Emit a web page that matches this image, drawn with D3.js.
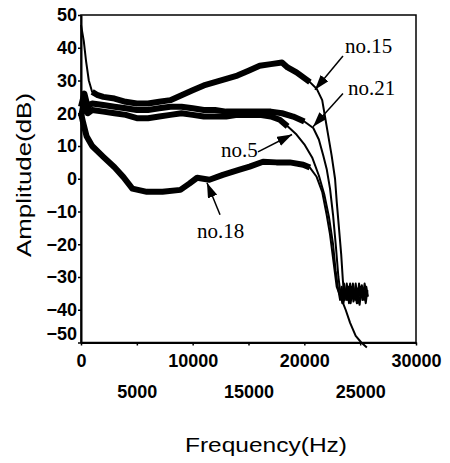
<!DOCTYPE html>
<html lang="en">
<head>
    <meta charset="UTF-8">
    <title>Amplitude vs Frequency</title>
    <script src="https://d3js.org/d3.v7.js"></script>
    <style>
        body { margin: 0; background: white; }
        .tick text { font-family: "Liberation Sans", Arial, sans-serif; font-weight: bold; font-size: 18px; fill: black; }
    </style>
</head>
<body>
<script>
    // tick values
    const freqTicks = [0, 5000, 10000, 15000, 20000, 25000, 30000];
    const ampTicks = [50, 40, 30, 20, 10, 0, -10, -20, -30, -40, -50];

    // series: [frequency Hz, amplitude dB]
    const no15 = [[0,47],[250,42],[450,36],[700,30],[1000,26.5],[1500,25.5],[2000,25],[3000,24.5],[4000,23.5],
        [5000,23],[6000,23],[7000,23.5],[8000,24],[9000,25.5],[10000,27],[11000,28.5],[12000,29.5],[13000,30.5],
        [14000,31.5],[15000,33],[16000,34.5],[17000,35],[18000,35.5],[18500,34],[19300,32.5],[20500,29.5],
        [21100,27.5],[21600,24],[21850,19],[22100,14],[22450,7],[22750,0],[22900,-7],[23100,-15],[23300,-23],
        [23450,-31],[23600,-37],[23800,-32],[24000,-38],[24200,-33],[24400,-37.5],[24600,-32],[24800,-38],
        [25000,-33],[25200,-37],[25400,-32],[25600,-36]];
    const no21 = [[0,22],[300,26],[600,22],[1000,23],[2000,22.5],[3000,22],[4000,21.5],[5000,21],[6000,21],
        [7000,21.5],[8000,22],[9000,22],[10000,21.5],[11000,21],[12000,21],[13000,20.5],[14000,20.5],
        [15000,20.5],[16000,20.5],[17000,20.5],[18000,20],[19000,19],[20000,17.5],[20800,15.5],[21300,12],
        [21700,7],[22000,3],[22300,-3],[22570,-11],[22835,-21],[23050,-30],[23200,-34],[23400,-38],[23550,-32],
        [23750,-37],[23950,-33],[24150,-38],[24350,-32],[24550,-37],[24750,-33.5],[24950,-38.5],[25150,-32.5],
        [25350,-37],[25550,-33],[25700,-36]];
    const no5 = [[0,19],[300,24],[600,20],[1000,21],[2000,20.5],[3000,20],[4000,19.5],[5000,18.5],[6000,18.5],
        [7000,19],[8000,19.5],[9000,20],[10000,19.5],[11000,19],[12000,19],[13000,19],[14000,19.5],[15000,19.5],
        [16000,19.5],[17000,19],[17800,18],[18500,16],[19300,13.5],[20000,10.5],[20700,6.5],[21300,1],
        [21800,-5],[22200,-11.6],[22570,-20],[22800,-28],[23000,-33],[23200,-37],[23350,-33],[23500,-38],
        [23700,-34],[23900,-37],[24100,-32],[24300,-36.5],[24500,-34],[24700,-38],[24900,-32],[25100,-36],
        [25300,-33.5],[25500,-38],[25650,-34]];
    const no18 = [[0,20],[200,17],[500,13],[1000,10],[2000,6.7],[3000,3.5],[3800,0.5],[4600,-3],[5900,-4],
        [7300,-4],[8900,-3.4],[9700,-1.5],[10400,0.3],[11500,-0.3],[12700,1.2],[14200,2.8],[15100,3.7],
        [16300,5.2],[17500,5],[18700,5],[19900,4.3],[20500,3.4],[21100,0.6],[21600,-4],[22000,-11],
        [22300,-17],[22600,-25],[22900,-33],[23300,-36.5],[23700,-40],[24100,-44],[24600,-48],[25100,-50],
        [25600,-51.5]];

    const seriesNames = ["no.15", "no.21", "no.5", "no.18"];
    const seriesData = [no15, no21, no5, no18];
    // frequency span where the trace is a thick noisy band
    const noisySpan = [[900, 21000], [0, 20200], [0, 18600], [0, 20600]];

    // labels: text anchor point and arrow tip, in data units
    const labelText = ["no.15", "no.21", "no.5", "no.18"];
    const labelPos = [[23640, 38.5], [23910, 25.5], [12540, 6.7], [10390, -18]];
    const arrowFrom = [[23460, 37.5], [23460, 26.0], [15850, 8.2], [12450, -11]];
    const arrowTo = [[20950, 27.2], [20780, 15.9], [18900, 13.5], [11280, -1.2]];

    const W = 450, H = 463;
    const mLeft = 81, mRight = 416, mTop = 15, mBottom = 342.5;

    const svg = d3.select("body").append("svg")
        .attr("width", W).attr("height", H);

    const x = d3.scaleLinear().domain([0, 30000]).range([mLeft, mRight]);
    const y = d3.scaleLinear().domain([-50, 50]).range([mBottom, mTop]);

    svg.append("defs").append("marker")
        .attr("id", "head")
        .attr("markerUnits", "userSpaceOnUse")
        .attr("markerWidth", 16).attr("markerHeight", 10)
        .attr("refX", 15).attr("refY", 5)
        .attr("orient", "auto")
        .append("path")
        .attr("d", "M0,0 L15,5 L0,10 Z")
        .attr("fill", "black");

    // frame
    svg.append("rect")
        .attr("x", mLeft).attr("y", mTop)
        .attr("width", mRight - mLeft).attr("height", mBottom - mTop)
        .attr("fill", "none").attr("stroke", "black").attr("stroke-width", 1.5);

    const line = d3.line()
        .x(d => x(d[0]))
        .y(d => y(d[1]));

    const g = svg.append("g");
    seriesData.forEach(function(data, i) {
        g.append("path")
            .attr("d", line(data))
            .attr("fill", "none")
            .attr("stroke", "black")
            .attr("stroke-width", 2)
            .attr("stroke-linejoin", "round");
        const span = noisySpan[i];
        g.append("path")
            .attr("d", line(data.filter(d => d[0] >= span[0] && d[0] <= span[1])))
            .attr("fill", "none")
            .attr("stroke", "black")
            .attr("stroke-width", 6)
            .attr("stroke-linejoin", "round")
            .attr("stroke-linecap", "butt");
    });

    // axes
    const yAxis = svg.append("g")
        .attr("transform", `translate(${mLeft},0)`)
        .call(d3.axisLeft(y).tickValues(ampTicks).tickFormat(d3.format("d"))
            .tickSize(3).tickSizeOuter(0).tickPadding(1));
    yAxis.select(".domain").attr("stroke-width", 2);
    yAxis.selectAll(".tick line").attr("stroke-width", 1.5);
    yAxis.selectAll(".tick text").filter(d => d === -50).attr("y", -9);

    const xAxis = svg.append("g")
        .attr("transform", `translate(0,${mBottom})`)
        .call(d3.axisBottom(x).tickValues(freqTicks).tickFormat(d3.format("d"))
            .tickSize(3).tickSizeOuter(0));
    xAxis.select(".domain").attr("stroke-width", 2);
    xAxis.selectAll(".tick line").attr("stroke-width", 1.5);
    xAxis.selectAll(".tick text")
        .attr("dy", 0)
        .attr("y", d => (d / 5000) % 2 ? 55 : 24);

    svg.append("text")
        .attr("x", 266).attr("y", 452)
        .attr("text-anchor", "middle")
        .attr("textLength", 162).attr("lengthAdjust", "spacingAndGlyphs")
        .style("font-family", "Liberation Sans, Arial, sans-serif")
        .style("font-size", "20px")
        .text("Frequency(Hz)");

    svg.append("text")
        .attr("transform", "translate(31,175) rotate(-90)")
        .attr("text-anchor", "middle")
        .attr("textLength", 164).attr("lengthAdjust", "spacingAndGlyphs")
        .style("font-family", "Liberation Sans, Arial, sans-serif")
        .style("font-size", "20px")
        .text("Amplitude(dB)");

    // annotations
    labelText.forEach(function(t, i) {
        svg.append("line")
            .attr("x1", x(arrowFrom[i][0])).attr("y1", y(arrowFrom[i][1]))
            .attr("x2", x(arrowTo[i][0])).attr("y2", y(arrowTo[i][1]))
            .attr("stroke", "black").attr("stroke-width", 1.5)
            .attr("marker-end", "url(#head)");
        svg.append("text")
            .attr("x", x(labelPos[i][0])).attr("y", y(labelPos[i][1]))
            .style("font-family", "Liberation Serif, Times New Roman, serif")
            .style("font-size", "21px")
            .text(t);
    });
</script>
</body>
</html>
